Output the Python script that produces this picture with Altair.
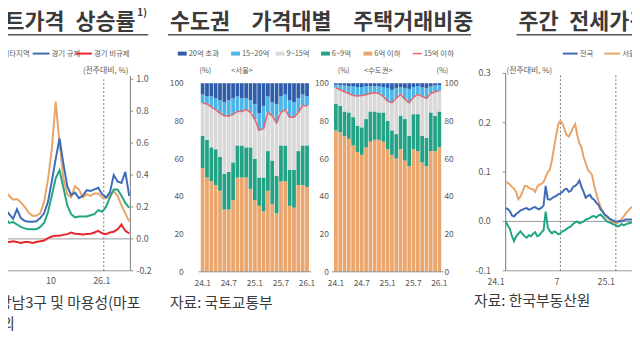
import altair as alt
import pandas as pd

FONT = "Noto Sans CJK KR"
TXT = "#5a5a5a"
DARK = "#3a3a3a"
AX = "#8f8f8f"
C_OR = "#E8A467"
C_BL = "#3D6CB6"
C_GR = "#22A585"
C_RD = "#E8262E"

# ---------------- Panel A : weekly apartment price change (partially cropped)
a_start = "2025-06-30"
a_orange = [0.60, 0.30, 0.27, 0.245, 0.25, 0.23, 0.20, 0.165, 0.145, 0.145, 0.16, 0.23, 0.37, 0.56,
            0.86, 0.60, 0.38, 0.28, 0.26, 0.33, 0.31, 0.26, 0.28, 0.27, 0.285, 0.285, 0.26, 0.255,
            0.27, 0.30, 0.27, 0.21, 0.16, 0.11]
a_blue = [0.30, 0.185, 0.155, 0.125, 0.185, 0.13, 0.113, 0.107, 0.107, 0.11, 0.13, 0.16, 0.23, 0.36,
          0.50, 0.63, 0.47, 0.33, 0.275, 0.29, 0.255, 0.27, 0.305, 0.30, 0.31, 0.32, 0.28, 0.26,
          0.29, 0.40, 0.36, 0.35, 0.42, 0.27]
a_green = [0.30, 0.13, 0.10, 0.105, 0.09, 0.075, 0.066, 0.06, 0.06, 0.06, 0.075, 0.10, 0.165, 0.27,
           0.38, 0.43, 0.32, 0.21, 0.155, 0.135, 0.14, 0.14, 0.14, 0.148, 0.155, 0.18, 0.17, 0.20,
           0.26, 0.31, 0.31, 0.27, 0.225, 0.195]
a_red = [-0.02, -0.02, -0.02, -0.015, -0.02, -0.025, -0.02, -0.02, -0.025, -0.02, -0.015, -0.01,
         0.005, 0.015, 0.02, 0.02, 0.025, 0.03, 0.04, 0.032, 0.03, 0.028, 0.03, 0.032, 0.04, 0.05,
         0.035, 0.03, 0.04, 0.045, 0.06, 0.09, 0.05, 0.035]
a_yticks = [-0.2, 0.0, 0.2, 0.4, 0.6, 0.8, 1.0]
a_xticks = ["2025-10-01", "2026-01-01"]
a_xlabels = ["10", "26.1"]

# ---------------- Panel B : share of transactions by price band (cumulative tops, %)
b_months = [f"{y}.{m:02d}" for y in (24, 25) for m in range(1, 13)] + ["26.01"]
b_xlabels = ["24.1", "24.7", "25.1", "25.7", "26.1"]
seoul_le6 = [55, 50, 48, 46, 43, 33, 33, 38, 50, 50, 50, 44, 38, 35, 32, 43, 36, 31, 48, 48, 35, 34, 46, 46, 45]
seoul_le9 = [72, 70, 66, 65, 61, 52, 53, 58, 67, 67, 66, 66, 60, 50, 50, 64, 59, 51, 67, 67, 54, 54, 64, 67, 67]
seoul_le15 = [89.5, 89, 87.5, 86, 84, 82.7, 82.5, 83.5, 85, 85, 86, 84.5, 81, 75, 76, 84.5, 82.7, 79, 84.5,
              86, 82, 82, 84.5, 88, 88]
seoul_le20 = [94, 93, 93, 92, 91, 90, 91, 92, 93, 92, 92, 91, 89, 84, 88, 93, 90, 89, 93, 94, 91, 90, 92, 94, 93]
metro_le6 = [75, 74, 72, 70.5, 67, 63.5, 62, 66, 69, 70, 70, 69, 65, 62, 60, 65, 59, 56, 65, 64, 58, 56, 64, 64, 66]
metro_le9 = [89, 88, 85, 84.5, 82, 77.5, 76.6, 81, 85, 85, 84.5, 84.5, 80, 75, 73, 82.7, 81, 72, 83.6, 83.6,
             72, 71, 84.5, 82.7, 85]
metro_le15 = [97.6, 96.5, 95.5, 94.5, 93.5, 93.2, 93.5, 94, 94.5, 94.9, 94.5, 93, 90.5, 89.7, 92, 94, 91.5,
              89.7, 92.5, 94.1, 93, 92, 94.5, 95.5, 96]
metro_le20 = [99.2, 99, 98.8, 98.5, 98.3, 98, 98, 98.3, 98.5, 98.5, 98.3, 98, 97.5, 96.5, 97.5, 98, 97.5, 97,
              98, 98.5, 98, 97.5, 98.3, 98.8, 99]
b_yticks = [0, 20, 40, 60, 80, 100]
b_cats = ["6억 이하", "6~9억", "9~15억", "15~20억", "20억 초과"]
b_cols = ["#EBA66E", "#23A285", "#D9D9D9", "#4DB5E8", "#2F5DAA"]

# ---------------- Panel C : weekly jeonse price change (partially cropped)
c_start = "2024-01-01"
c_orange = [0.08, 0.078, 0.075, 0.07, 0.066, 0.06, 0.045, 0.05, 0.06, 0.072,
            0.072, 0.068, 0.066, 0.065, 0.06, 0.07, 0.075, 0.076, 0.08, 0.09,
            0.1, 0.105, 0.125, 0.15, 0.175, 0.197, 0.204, 0.198, 0.186, 0.175,
            0.172, 0.18, 0.19, 0.197, 0.175, 0.158, 0.15, 0.13, 0.118, 0.105,
            0.1, 0.094, 0.073, 0.057, 0.042, 0.03, 0.021, 0.013, 0.009, 0.005,
            0.0, -0.002, -0.003, -0.003, 0.0, 0.005, 0.01, 0.016, 0.021, 0.026, 0.03]
c_blue = [0.027, 0.025, 0.021, 0.012, 0.01, 0.015, 0.018, 0.022, 0.024, 0.026,
          0.027, 0.024, 0.025, 0.028, 0.029, 0.026, 0.025, 0.028, 0.032, 0.072,
          0.045, 0.044, 0.047, 0.05, 0.052, 0.055, 0.057, 0.06, 0.065, 0.066,
          0.06, 0.062, 0.07, 0.072, 0.076, 0.083, 0.07, 0.06, 0.048, 0.052,
          0.054, 0.047, 0.044, 0.038, 0.034, 0.025, 0.02, 0.014, 0.011, 0.007,
          0.004, 0.002, 0.0, 0.0, 0.001, 0.0, 0.002, 0.004, 0.004, 0.004, 0.004]
c_green = [0.0, -0.008, -0.015, -0.03, -0.04, -0.03, -0.025, -0.02, -0.025, -0.03,
           -0.033, -0.028, -0.03, -0.025, -0.022, -0.03, -0.028, -0.022, -0.018, 0.02,
           -0.012, -0.02, -0.024, -0.02, -0.022, -0.026, -0.024, -0.02, -0.018, -0.015,
           -0.012, -0.01, -0.005, -0.002, 0.0, -0.004, -0.002, 0.0, 0.004, 0.005,
           0.007, 0.01, 0.011, 0.008, 0.012, 0.014, 0.01, 0.005, 0.0, -0.002,
           -0.003, -0.006, -0.007, -0.01, -0.009, -0.005, -0.008, -0.006, -0.004, -0.003, -0.002]
c_yticks = [-0.1, 0.0, 0.1, 0.2, 0.3]
c_xticks = ["2024-01-01", "2024-07-01", "2025-01-01"]
c_xlabels = ["24.1", "7", "25.1"]

# ---------------- helpers
ONE = pd.DataFrame({"k": [0]})
NO = None


def text(s, x, y, size=9.0, color=TXT, align="left", weight="normal"):
    return alt.Chart(ONE).mark_text(text=s, align=align, baseline="middle", fontSize=size,
                                    color=color, fontWeight=weight, font=FONT).encode(
        x=alt.value(x), y=alt.value(y))


def pline(x1, x2, y, color=DARK, width=1.0):
    return alt.Chart(ONE).mark_rule(color=color, strokeWidth=width).encode(
        x=alt.value(x1), x2=alt.value(x2), y=alt.value(y))


def days(dates, ref):
    return [(pd.Timestamp(d) - pd.Timestamp(ref)).days for d in dates]


layers = []

# ================= Panel A
xA = alt.Scale(domain=[-173.2, 48.2], range=[0, 124], nice=False, zero=False)
yA = alt.Scale(domain=[-0.2, 1.0], range=[264, 70], nice=False, zero=False)
a_d = days(pd.date_range(a_start, periods=len(a_orange), freq="7D"), "2026-01-01")

layers.append(alt.Chart(pd.DataFrame({"y": [0.0, -0.2], "a": [-173.2, -173.2], "b": [48.2, 48.2]}))
              .mark_rule(color="#9a9a9a", strokeWidth=1)
              .encode(x=alt.X("a:Q", scale=xA, axis=NO), x2="b:Q", y=alt.Y("y:Q", scale=yA, axis=NO)))
layers.append(alt.Chart(pd.DataFrame({"x": [0], "lo": [-0.2], "hi": [1.0]}))
              .mark_rule(color="#7a7a7a", strokeDash=[2, 2], strokeWidth=1)
              .encode(x=alt.X("x:Q", scale=xA, axis=NO), y=alt.Y("lo:Q", scale=yA, axis=NO), y2="hi:Q"))
layers.append(alt.Chart(pd.DataFrame({"lo": [-0.2], "hi": [1.02]}))
              .mark_rule(color=AX, strokeWidth=1.2)
              .encode(x=alt.value(124), y=alt.Y("lo:Q", scale=yA, axis=NO), y2="hi:Q"))
layers.append(alt.Chart(pd.DataFrame({"v": a_yticks}))
              .mark_rule(color=AX, strokeWidth=1)
              .encode(x=alt.value(124), x2=alt.value(127), y=alt.Y("v:Q", scale=yA, axis=NO)))
for vals, col in [(a_orange, C_OR), (a_green, C_GR), (a_blue, C_BL), (a_red, C_RD)]:
    layers.append(alt.Chart(pd.DataFrame({"d": a_d, "v": vals}))
                  .mark_line(color=col, strokeWidth=2)
                  .encode(x=alt.X("d:Q", scale=xA, axis=NO), y=alt.Y("v:Q", scale=yA, axis=NO)))
layers.append(alt.Chart(pd.DataFrame({"v": a_yticks, "lab": [f"{v:.1f}" for v in a_yticks]}))
              .mark_text(align="left", baseline="middle", fontSize=9, color=TXT, font=FONT)
              .encode(x=alt.value(130), y=alt.Y("v:Q", scale=yA, axis=NO), text="lab:N"))
layers.append(alt.Chart(pd.DataFrame({"d": days(a_xticks, "2026-01-01"), "lab": a_xlabels}))
              .mark_text(align="center", baseline="middle", fontSize=9, color=TXT, font=FONT, dx=-2)
              .encode(x=alt.X("d:Q", scale=xA, axis=NO), y=alt.value(274), text="lab:N"))
layers += [
    text("아파트가격\u2002상승률", 129, 12, size=22, color=DARK, align="right", weight="bold"),
    text("1)", 131, 3, size=10, color=DARK, weight="bold"),
    pline(0, 142, 25, color="#555555", width=1.5),
    text("서울 기타지역", 22, 44, size=7.5, align="right"),
    pline(25, 42, 44, color=C_BL, width=2),
    text("경기 규제", 44, 44, size=7.5),
    pline(69, 85, 44, color=C_RD, width=2),
    text("경기 비규제", 87, 44, size=7.5),
    text("(전주대비, %)", 122, 62, size=8, align="right"),
    text("강남3구 및 마용성(마포", 134, 297, size=15, color=DARK, align="right"),
    text("성동) 이외", 7, 318, size=15, color=DARK, align="right"),
]

# ================= Panel B
yB = alt.Scale(domain=[0, 100], range=[265, 74], nice=False, zero=False)
bcol = alt.Scale(domain=b_cats, range=b_cols)


def stack_df(tops):
    rows = []
    prev = [0] * len(b_months)
    for cat, top in zip(b_cats, tops + [[100] * len(b_months)]):
        for i, m in enumerate(b_months):
            rows.append({"m": m, "cat": cat, "y0": prev[i], "y1": top[i]})
        prev = top
    return pd.DataFrame(rows)


for tops, r0, r1 in [([seoul_le6, seoul_le9, seoul_le15, seoul_le20], 195, 305),
                     ([metro_le6, metro_le9, metro_le15, metro_le20], 330, 439)]:
    xB = alt.Scale(domain=b_months, range=[r0, r1], paddingInner=0.14, paddingOuter=0.05)
    layers.append(alt.Chart(stack_df(tops)).mark_bar()
                  .encode(x=alt.X("m:N", scale=xB, axis=NO), y=alt.Y("y0:Q", scale=yB, axis=NO), y2="y1:Q",
                          color=alt.Color("cat:N", scale=bcol, legend=NO)))
    layers.append(alt.Chart(pd.DataFrame({"m": b_months, "v": tops[2]}))
                  .mark_line(color="#E8666A", strokeWidth=1.5)
                  .encode(x=alt.X("m:N", scale=xB, axis=NO), y=alt.Y("v:Q", scale=yB, axis=NO)))
    layers.append(alt.Chart(pd.DataFrame({"m": b_months[::6], "lab": b_xlabels}))
                  .mark_text(align="center", baseline="middle", fontSize=8.5, color=TXT, font=FONT)
                  .encode(x=alt.X("m:N", scale=xB, axis=NO), y=alt.value(276), text="lab:N"))
    layers.append(alt.Chart(pd.DataFrame({"y": [0]}))
                  .mark_rule(color=AX, strokeWidth=1)
                  .encode(x=alt.value(r0 - 2), x2=alt.value(r1 + 2), y=alt.Y("y:Q", scale=yB, axis=NO)))

for xpos, al in [(178, "right"), (325, "right"), (442, "left")]:
    layers.append(alt.Chart(pd.DataFrame({"v": b_yticks, "lab": [str(v) for v in b_yticks]}))
                  .mark_text(align=al, baseline="middle", fontSize=8.5, color=TXT, font=FONT)
                  .encode(x=alt.value(xpos), y=alt.Y("v:Q", scale=yB, axis=NO), text="lab:N"))

leg_items = [("20억 초과", "#2F5DAA", 172, 4), ("15~20억", "#4DB5E8", 226, 4), ("9~15억", "#D9D9D9", 271, 4),
             ("6~9억", "#23A285", 317, 4), ("6억 이하", "#EBA66E", 360, 4), ("15억 이하", "#E8666A", 410, 1.5)]
for lab, col, x0, w in leg_items:
    layers.append(pline(x0, x0 + 9, 44, color=col, width=w))
    layers.append(text(lab, x0 + 11, 44, size=7.5))
layers += [
    text("수도권\u2003가격대별\u2003주택거래비중", 164, 12, size=22, color=DARK, weight="bold"),
    pline(162, 469, 25, color="#555555", width=1.5),
    text("(%)", 200, 62, size=7.5, align="center"),
    text("<서울>", 237, 62, size=7.5, align="center"),
    text("(%)", 340, 62, size=7.5, align="center"),
    text("<수도권>", 375, 62, size=7.5, align="center"),
    text("(%)", 440, 62, size=7.5, align="center"),
    text("자료: 국토교통부", 164, 297, size=15, color=DARK),
]

# ================= Panel C
xC = alt.Scale(domain=[0, 419.7], range=[504, 632], nice=False, zero=False)
yC = alt.Scale(domain=[-0.1, 0.3], range=[264, 64], nice=False, zero=False)
c_d = days(pd.date_range(c_start, periods=len(c_orange), freq="7D"), "2024-01-01")
c_td = days(c_xticks, "2024-01-01")

layers.append(alt.Chart(pd.DataFrame({"y": [0.0, -0.1], "a": [0, 0], "b": [419.7, 419.7]}))
              .mark_rule(color="#9a9a9a", strokeWidth=1)
              .encode(x=alt.X("a:Q", scale=xC, axis=NO), x2="b:Q", y=alt.Y("y:Q", scale=yC, axis=NO)))
layers.append(alt.Chart(pd.DataFrame({"x": c_td[1:], "lo": [-0.1, -0.1], "hi": [0.3, 0.3]}))
              .mark_rule(color="#7a7a7a", strokeDash=[2, 2], strokeWidth=1)
              .encode(x=alt.X("x:Q", scale=xC, axis=NO), y=alt.Y("lo:Q", scale=yC, axis=NO), y2="hi:Q"))
layers.append(alt.Chart(pd.DataFrame({"lo": [-0.1], "hi": [0.3]}))
              .mark_rule(color=AX, strokeWidth=1.2)
              .encode(x=alt.value(504), y=alt.Y("lo:Q", scale=yC, axis=NO), y2="hi:Q"))
layers.append(alt.Chart(pd.DataFrame({"v": c_yticks}))
              .mark_rule(color=AX, strokeWidth=1)
              .encode(x=alt.value(501), x2=alt.value(504), y=alt.Y("v:Q", scale=yC, axis=NO)))
for vals, col in [(c_orange, C_OR), (c_green, C_GR), (c_blue, C_BL)]:
    layers.append(alt.Chart(pd.DataFrame({"d": c_d, "v": vals}))
                  .mark_line(color=col, strokeWidth=2)
                  .encode(x=alt.X("d:Q", scale=xC, axis=NO), y=alt.Y("v:Q", scale=yC, axis=NO)))
layers.append(alt.Chart(pd.DataFrame({"v": c_yticks, "lab": [f"{v:.1f}" for v in c_yticks]}))
              .mark_text(align="right", baseline="middle", fontSize=9, color=TXT, font=FONT)
              .encode(x=alt.value(489), y=alt.Y("v:Q", scale=yC, axis=NO), text="lab:N"))
layers.append(alt.Chart(pd.DataFrame({"d": c_td, "lab": c_xlabels}))
              .mark_text(align="right", baseline="middle", fontSize=9, color=TXT, font=FONT, dx=-1)
              .encode(x=alt.X("d:Q", scale=xC, axis=NO), y=alt.value(275), text="lab:N"))
layers += [
    text("주간\u2002전세가격\u2002상승률", 517, 12, size=22, color=DARK, weight="bold"),
    pline(515, 632, 25, color="#555555", width=1.5),
    pline(562, 577, 44, color=C_BL, width=2),
    text("전국", 579, 44, size=7.5),
    pline(604, 620, 44, color=C_OR, width=2),
    text("서울", 622, 44, size=7.5),
    text("(전주대비, %)", 505, 62, size=8),
    text("자료: 한국부동산원", 472, 295, size=15, color=DARK),
]

chart = (alt.layer(*layers)
         .resolve_scale(x="independent", y="independent", color="independent")
         .properties(width=632, height=340, autosize=alt.AutoSizeParams(type="none"), padding=0)
         .configure_view(stroke=None))

chart.save("out.html", embed_options={"renderer": "svg", "actions": False})
